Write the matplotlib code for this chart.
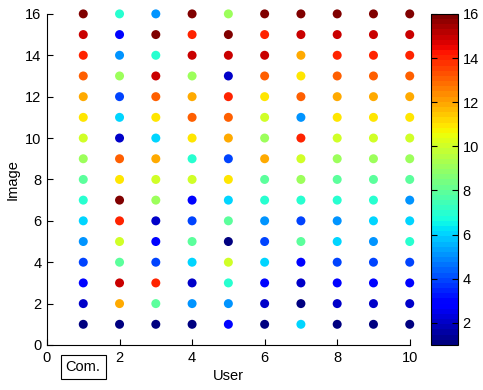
import matplotlib
matplotlib.use('Agg')
import matplotlib.pyplot as plt
import numpy as np

plt.rcParams['font.family'] = ['Liberation Sans', 'DejaVu Sans']

users = list(range(1, 11))
images = list(range(1, 17))

# rank given by each user to images 1..16 (bottom to top)
ranks = {
    1:  [1, 2, 3, 4, 5, 6, 7, 8, 9, 10, 11, 12, 13, 14, 15, 16],
    2:  [1, 12, 15, 8, 10, 14, 16, 11, 13, 2, 6, 4, 9, 5, 3, 7],
    3:  [1, 8, 14, 4, 3, 2, 9, 10, 12, 6, 11, 13, 15, 7, 16, 5],
    4:  [1, 5, 2, 6, 8, 4, 3, 10, 7, 11, 13, 12, 9, 15, 14, 16],
    5:  [3, 5, 7, 10, 1, 8, 6, 11, 4, 12, 13, 14, 2, 15, 16, 9],
    6:  [1, 2, 3, 6, 4, 5, 7, 8, 12, 9, 10, 11, 13, 15, 14, 16],
    7:  [6, 1, 2, 3, 8, 4, 7, 9, 10, 14, 5, 13, 11, 12, 15, 16],
    8:  [1, 2, 3, 4, 6, 5, 7, 8, 9, 10, 11, 12, 13, 14, 15, 16],
    9:  [1, 2, 3, 4, 5, 6, 7, 8, 9, 10, 11, 12, 13, 14, 15, 16],
    10: [1, 2, 3, 4, 7, 6, 5, 8, 9, 10, 11, 12, 13, 14, 15, 16],
}

xs, ys, cs = [], [], []
for u in users:
    for img, r in zip(images, ranks[u]):
        xs.append(u)
        ys.append(img)
        cs.append(r)

fig = plt.figure(figsize=(4.83, 3.90), dpi=100, facecolor='white')
ax = fig.add_axes([0.0973, 0.1154, 0.751, 0.849])
cax = fig.add_axes([0.892, 0.1154, 0.056, 0.849])

cmap = plt.get_cmap('jet', 64)
sc = ax.scatter(xs, ys, c=cs, cmap=cmap, vmin=1, vmax=16, s=42, linewidths=0,
                clip_on=False, zorder=3)

ax.set_xlim(0, 10)
ax.set_ylim(0, 16)
ax.set_xticks([0, 2, 4, 6, 8, 10])
ax.set_yticks(range(0, 17, 2))
ax.spines['top'].set_visible(False)
ax.spines['right'].set_visible(False)
ax.tick_params(direction='in', length=4, labelsize=10.5, width=0.8, pad=4)
ax.set_xlabel('User', fontsize=10.5, labelpad=3)
ax.set_ylabel('Image', fontsize=10.5, labelpad=4)

cb = fig.colorbar(sc, cax=cax)
cb.set_ticks(range(2, 17, 2))
cb.ax.tick_params(direction='in', length=4, labelsize=10.5, width=0.8, left=True)
cb.outline.set_linewidth(0.8)

fig.text(0.172, 0.058, 'Com.', fontsize=10.5, ha='center', va='center',
         bbox=dict(boxstyle='square,pad=0.35', facecolor='white', edgecolor='black', linewidth=0.8))

fig.savefig('out.png', dpi=100, facecolor='white')
